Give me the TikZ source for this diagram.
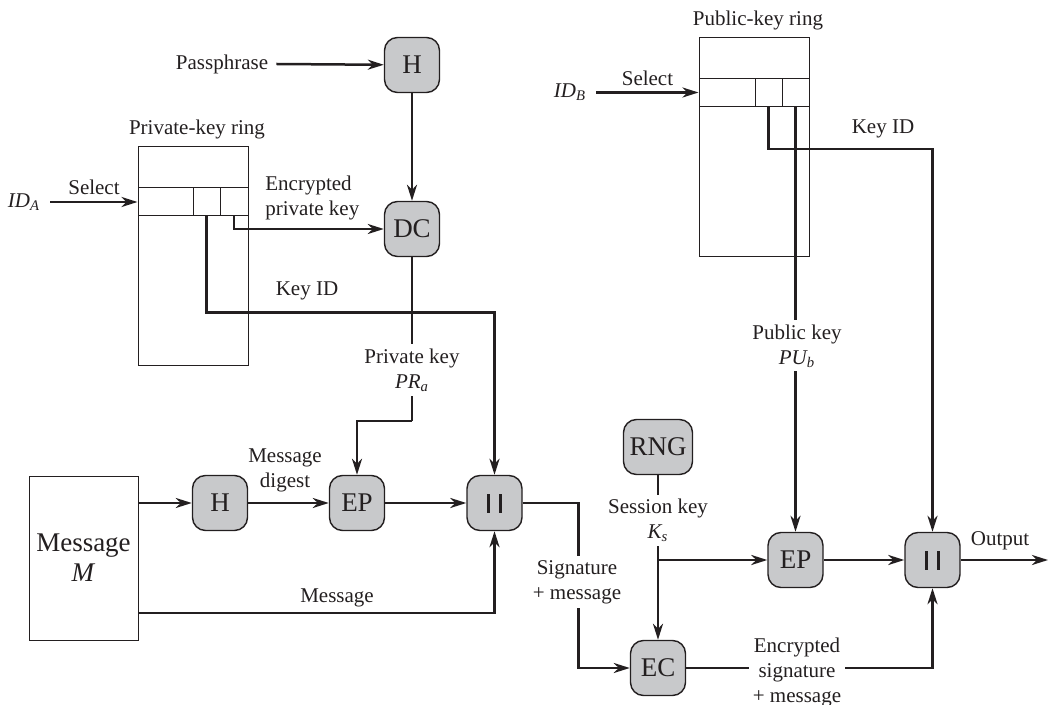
\documentclass[tikz,border=0pt]{standalone}
\usepackage{fontspec}
\setmainfont{Liberation Serif}
\usetikzlibrary{arrows.meta}

\definecolor{ink}{HTML}{231F20}
\definecolor{boxgray}{HTML}{C8C9CB}

\newcommand{\catbars}{\rule{1.3pt}{9.5pt}\hspace{4.7pt}\rule{1.3pt}{9.5pt}}

\begin{document}
\begin{tikzpicture}[
  x=0.5pt, y=-0.5pt,
  every node/.style={font=\fontsize{10.5}{12.5}\selectfont, text=ink},
  op/.style={draw=ink, line width=0.7pt, fill=boxgray, rounded corners=6.5pt,
    minimum width=27.5pt, minimum height=27.5pt, inner xsep=3pt, font=\fontsize{13.5}{15}\selectfont},
  ring/.style={draw=ink, line width=0.5pt, minimum width=55pt, minimum height=109.5pt, inner sep=0pt},
  cell/.style={draw=ink, line width=0.5pt, minimum height=14pt, inner sep=0pt},
  conn/.style={draw=ink, line width=1.25pt, -{Stealth[length=8pt,width=5pt,inset=2.5pt]}},
  wire/.style={draw=ink, line width=1.25pt},
  lbl/.style={align=center, inner sep=1pt},
  gap/.style={lbl, fill=white, inner sep=2pt}
]
  \useasboundingbox (0,0) rectangle (1049,705);

  % ==========================================
  % 1. KEY RINGS
  % ==========================================

  % private-key ring (sender)
  \node[ring] (privring) at (193,256.5) {};
  \node[cell, minimum width=27.5pt] (pra1) at (165.5,202) {};
  \node[cell, minimum width=13.5pt] (pra2) at (206.5,202) {};
  \node[cell, minimum width=14pt]   (pra3) at (234,202) {};
  \node[lbl] (privlbl) at (197,129) {Private-key ring};

  % public-key ring (receiver)
  \node[ring] (pubring) at (754,147.5) {};
  \node[cell, minimum width=28pt]   (pub1) at (727,92.5) {};
  \node[cell, minimum width=13.5pt] (pub2) at (768.5,92.5) {};
  \node[cell, minimum width=13.5pt] (pub3) at (795.5,92.5) {};
  \node[lbl] (publbl) at (758,20) {Public-key ring};

  % ==========================================
  % 2. FUNCTION BLOCKS
  % ==========================================
  \node[op] (h1)   at (412,65)    {H};
  \node[op] (dc)   at (412,229)   {DC};
  \node[op] (h2)   at (220,503)   {H};
  \node[op] (ep1)  at (357,503)   {EP};
  \node[op] (cat1) at (494.5,503) {\catbars};
  \node[op] (rng)  at (658,447)   {RNG};
  \node[op] (ec)   at (658,668)   {EC};
  \node[op] (ep2)  at (795.5,560) {EP};
  \node[op] (cat2) at (932.5,560) {\catbars};

  \node[draw=ink, line width=0.5pt, minimum width=54.5pt, minimum height=82pt, align=center,
    font=\fontsize{13.5}{15}\selectfont] (msg) at (83.5,558) {Message\\\textit{M}};

  % inputs
  \node[lbl] (pass) at (222,64) {Passphrase};
  \node[lbl] (ida)  at (24,202) {\textit{ID\textsubscript{A}}};
  \node[lbl] (idb)  at (570,92.5) {\textit{ID\textsubscript{B}}};
  \coordinate (msgout) at (138,613);
  \coordinate (out) at (1048,560);

  % ==========================================
  % 3. CONNECTIONS
  % ==========================================
  \draw[conn] ([xshift=3pt]pass.east) -- (h1);
  \draw[conn] (h1) -- (dc);
  \draw[conn] ([xshift=4pt]ida.east) -- node[lbl, above=2pt] {Select} (pra1.west);
  \draw[conn] (pra3.south) |- (dc.west);
  \draw[wire] (dc.south) -- ++(0,164) coordinate (prk);
  \draw[conn] (prk) -| (ep1.north);
  \draw[conn] (pra2.south) -- ++(0,96) -| (cat1.north);

  \draw[conn] (msg.east |- h2) -- (h2);
  \draw[conn] (h2) -- (ep1);
  \draw[conn] (ep1) -- (cat1);
  \draw[conn] (msgout) -| (cat1.south);
  \draw[conn] (cat1.east) -- ++(56,0) |- (ec.west);

  \draw[conn] (rng) -- (ec);
  \draw[conn] (ec.north |- ep2) -- (ep2);
  \draw[conn] (ep2) -- (cat2);
  \draw[conn] (ec.east) -| (cat2.south);
  \draw[conn] (cat2) -- (out);

  \draw[conn] ([xshift=4pt]idb.east) -- node[lbl, above=2pt] {Select} (pub1.west);
  \draw[conn] (pub3.south) -- (ep2.north);
  \draw[conn] (pub2.south) -- ++(0,42) -| (cat2.north);

  % ==========================================
  % 4. LABELS
  % ==========================================
  \node[lbl, anchor=west, align=left] at (263,198) {Encrypted\\private key};
  \node[lbl] at (307,291) {Key ID};
  \node[gap] at (412,370) {Private key\\\textit{PR\textsubscript{a}}};
  \node[lbl] at (285,470) {Message\\digest};
  \node[lbl] at (337,598) {Message};
  \node[gap] at (577,582) {Signature\\+ message};
  \node[gap] at (658,520) {Session key\\\textit{K\textsubscript{s}}};
  \node[gap] at (797,346) {Public key\\\textit{PU\textsubscript{b}}};
  \node[lbl] at (883,129) {Key ID};
  \node[lbl] at (1000,541) {Output};
  \node[gap, inner ysep=1pt] at (797,672) {Encrypted\\signature\\+ message};

\end{tikzpicture}
\end{document}
